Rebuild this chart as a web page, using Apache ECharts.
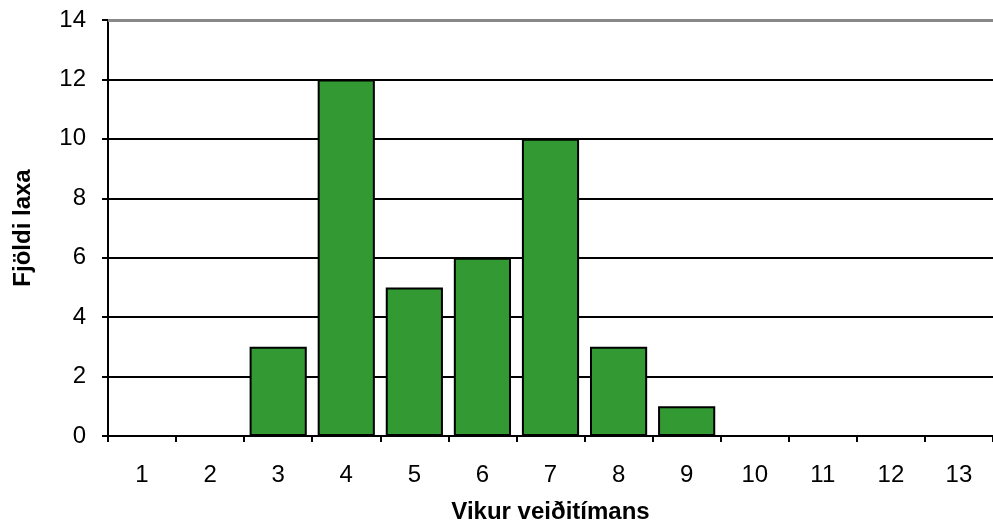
<!DOCTYPE html>
<html><head><meta charset="utf-8">
<script src="https://cdn.jsdelivr.net/npm/echarts@6/dist/echarts.min.js"></script>
<style>html,body{margin:0;padding:0;background:#fff}#c{width:993px;height:529px}</style>
</head><body><div id="c"></div>
<script>
const categories = ['1','2','3','4','5','6','7','8','9','10','11','12','13'];
const values = [0,0,3,12,5,6,10,3,1,0,0,0,0];
const yTicks = {min:0, max:14, interval:2};
const xTitle = 'Vikur veiðitímans';
const yTitle = 'Fjöldi laxa';

const font = 'Liberation Sans, Arial, sans-serif';
const chart = echarts.init(document.getElementById('c'));
chart.setOption({
  animation:false,
  grid:{left:108, right:-1, top:20, bottom:85},
  xAxis:{type:'category', data:categories,
    name:xTitle, nameLocation:'middle', nameGap:64,
    nameTextStyle:{fontFamily:font, fontSize:24, fontWeight:'bold', color:'#000'},
    axisLine:{lineStyle:{color:'#000', width:2}},
    axisTick:{show:true, length:6, lineStyle:{color:'#000', width:2}, alignWithLabel:false},
    axisLabel:{fontFamily:font, fontSize:24, color:'#000', margin:27},
    splitLine:{show:false}},
  yAxis:{type:'value', min:yTicks.min, max:yTicks.max, interval:yTicks.interval,
    name:yTitle, nameLocation:'middle', nameGap:73,
    nameTextStyle:{fontFamily:font, fontSize:24, fontWeight:'bold', color:'#000'},
    axisLine:{show:true, lineStyle:{color:'#000', width:2}},
    axisTick:{show:true, length:6, lineStyle:{color:'#000', width:2}},
    axisLabel:{fontFamily:font, fontSize:24, color:'#000', margin:22},
    splitLine:{show:true, lineStyle:{color:'#000', width:2}}},
  series:[{type:'bar', data:values, barCategoryGap:'16%',
    itemStyle:{color:'#339933', borderColor:'#000', borderWidth:2},
    markLine:{silent:true, symbol:'none', animation:false, label:{show:false},
      lineStyle:{color:'#888', type:'solid', width:3},
      data:[{yAxis:yTicks.max}]}}]
});
</script></body></html>
